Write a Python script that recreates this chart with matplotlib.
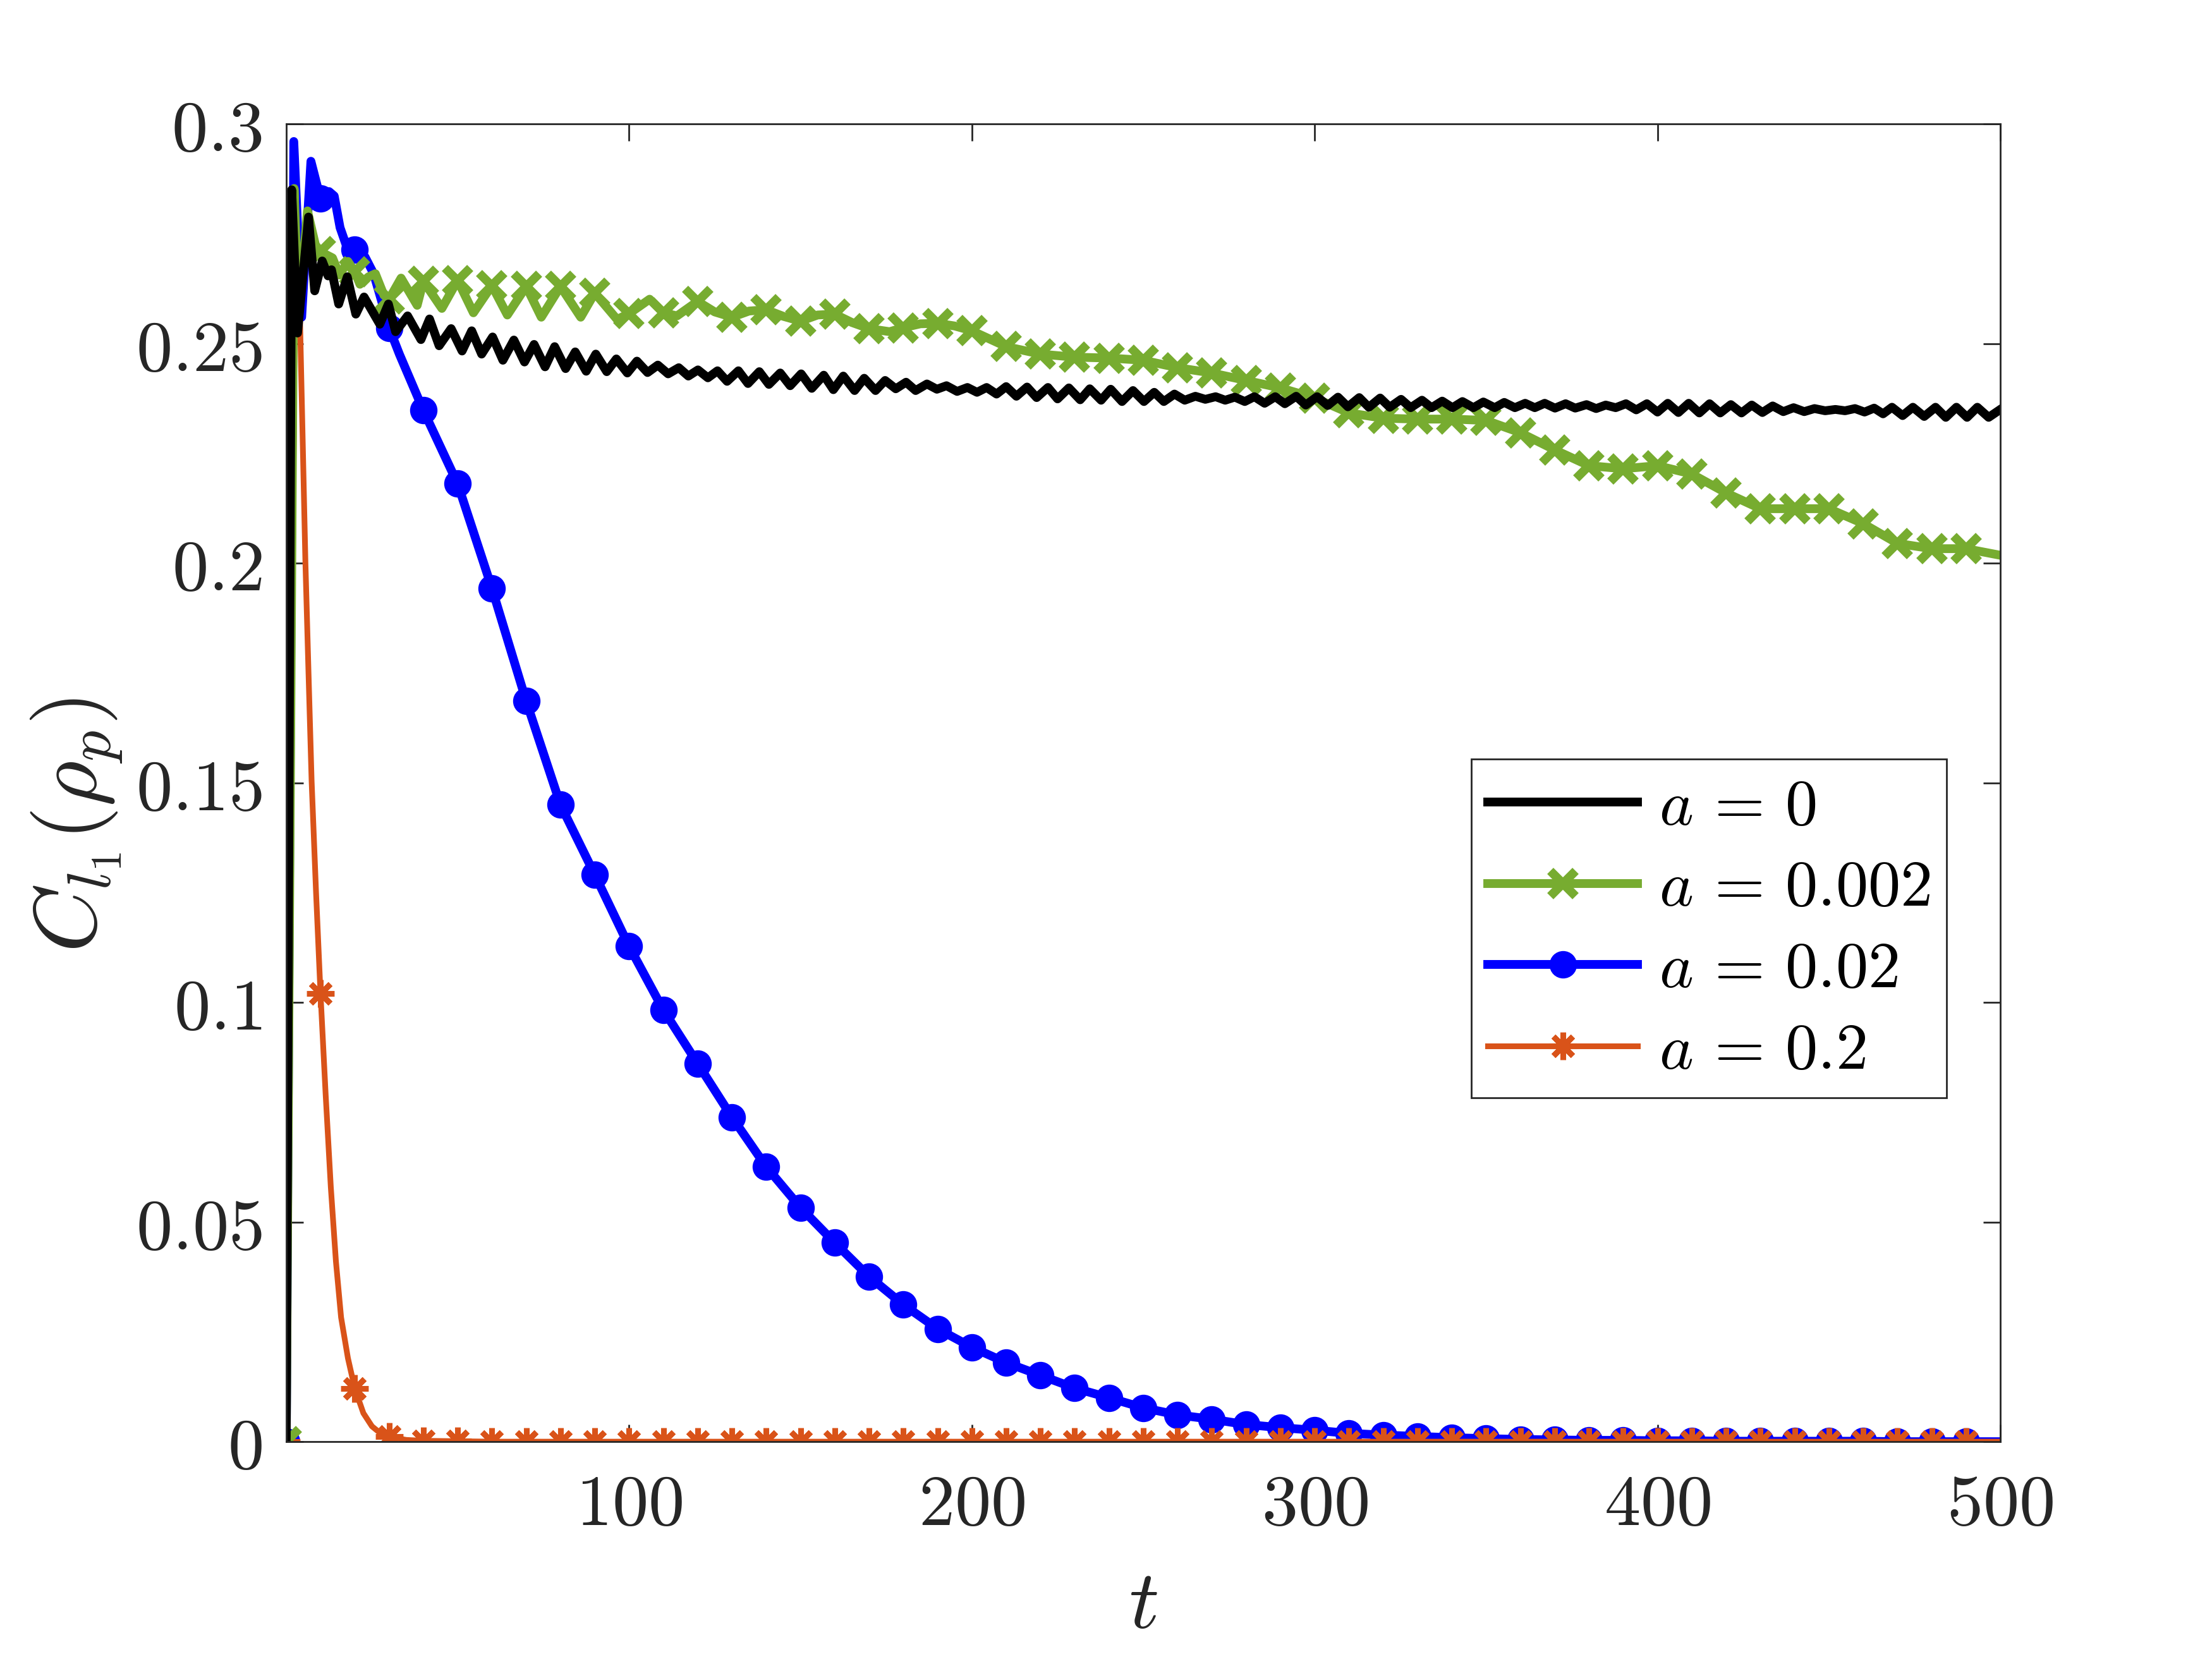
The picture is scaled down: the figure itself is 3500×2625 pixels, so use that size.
import numpy as np
import matplotlib
matplotlib.use("Agg")
import matplotlib.pyplot as plt

plt.rcParams['mathtext.fontset'] = 'cm'
plt.rcParams['font.family'] = ['DejaVu Serif']

# a = 0 : oscillating curve, peaks / troughs
black_t = [0, 1.6, 3.3, 6.5, 8.3, 10.5, 12.2, 13.2, 15.3, 17.8, 20.3, 22.7, 27.3, 29.8, 31.9,
           35.4, 39.3, 41.8, 44.6, 48.1, 51.3, 54.1, 57.0, 60.2, 63.2, 66.4, 69.5, 72.3, 75.5,
           78.3, 81.5, 84.3, 87.5, 90.3, 93.5, 96.3, 99.5, 102.3, 105.4, 108.4, 111.4, 114.5,
           117.3, 120.1, 123.0, 125.8, 128.6, 131.9, 134.7, 138.0, 140.8, 144.1, 147.0, 150.2,
           153.3, 156.8, 159.6, 162.5, 165.8, 168.6, 171.9, 174.7, 177.8, 180.8, 183.6, 186.9,
           189.8, 192.6, 195.7, 198.7, 201.5, 204.3, 207.2, 210.0, 213.0, 216.1, 218.9, 222.2,
           225.0, 228.3, 231.6, 234.4, 237.7, 240.5, 243.8, 247.0, 250.2, 253.2, 256.0, 259.1,
           262.1, 265.2, 268.1, 271.1, 273.9, 276.7, 279.6, 282.4, 285.4, 288.5, 291.3, 294.6,
           297.4, 300.7, 303.8, 306.8, 309.7, 313.0, 315.8, 319.1, 321.9, 325.2, 328.0, 331.3,
           334.1, 337.2, 340.2, 343.1, 346.3, 349.2, 352.5, 355.3, 358.4, 361.4, 364.2, 367.1,
           370.1, 373.2, 376.0, 379.3, 382.1, 384.9, 387.8, 390.8, 393.8, 396.9, 400.0, 403.0,
           406.1, 409.1, 412.2, 415.2, 418.3, 421.4, 424.5, 427.5, 430.6, 433.6, 436.7, 439.7,
           442.8, 445.8, 448.9, 451.9, 454.7, 457.6, 460.4, 463.2, 465.8, 468.4, 471.5, 474.5,
           477.8, 481.1, 484.1, 487.2, 490.3, 493.3, 496.6, 500.0]
black_v = [0.0, 0.2850, 0.2524, 0.2788, 0.2620, 0.2688, 0.2654, 0.2668, 0.2590, 0.2652, 0.2567,
           0.2606, 0.2544, 0.2590, 0.2527, 0.2563, 0.2509, 0.2556, 0.2495, 0.2534, 0.2483, 0.2529,
           0.2476, 0.2515, 0.2462, 0.2508, 0.2458, 0.2498, 0.2447, 0.2493, 0.2443, 0.2481, 0.2437,
           0.2476, 0.2436, 0.2465, 0.2433, 0.2460, 0.2434, 0.2451, 0.2431, 0.2445, 0.2426, 0.2440,
           0.2422, 0.2438, 0.2414, 0.2438, 0.2409, 0.2436, 0.2407, 0.2433, 0.2404, 0.2431, 0.2398,
           0.2428, 0.2395, 0.2426, 0.2393, 0.2421, 0.2393, 0.2416, 0.2397, 0.2412, 0.2393, 0.2408,
           0.2396, 0.2404, 0.2391, 0.2400, 0.2389, 0.2400, 0.2385, 0.2402, 0.2380, 0.2401, 0.2377,
           0.2400, 0.2374, 0.2399, 0.2372, 0.2397, 0.2371, 0.2396, 0.2368, 0.2393, 0.2368, 0.2389,
           0.2368, 0.2385, 0.2371, 0.2380, 0.2373, 0.2379, 0.2371, 0.2378, 0.2368, 0.2379, 0.2364,
           0.2379, 0.2363, 0.2380, 0.2360, 0.2379, 0.2359, 0.2378, 0.2356, 0.2377, 0.2355, 0.2376,
           0.2355, 0.2373, 0.2354, 0.2371, 0.2354, 0.2369, 0.2354, 0.2368, 0.2354, 0.2367, 0.2354,
           0.2366, 0.2354, 0.2364, 0.2354, 0.2364, 0.2353, 0.2363, 0.2353, 0.2361, 0.2352, 0.2360,
           0.2354, 0.2363, 0.2349, 0.2363, 0.2344, 0.2364, 0.2343, 0.2364, 0.2342, 0.2363, 0.2342,
           0.2361, 0.2342, 0.2360, 0.2343, 0.2358, 0.2345, 0.2354, 0.2345, 0.2352, 0.2347, 0.2350,
           0.2347, 0.2352, 0.2344, 0.2353, 0.2340, 0.2355, 0.2336, 0.2355, 0.2334, 0.2355, 0.2332,
           0.2355, 0.2332, 0.2355, 0.2332, 0.2350]

# a = 0.002
green_t = [0, 2.3, 3.6, 6.2, 8.5, 10, 13.5, 15.5, 18, 20, 21.5, 24, 26, 28.5, 30, 33.5, 38.2, 40,
           45.4, 50, 54.6, 60, 64.5, 70, 74.4, 80, 85.9, 90, 96.5, 100, 106, 110, 114, 120, 125,
           130, 135, 140, 145, 150, 155, 160, 165, 170, 176, 180, 185, 190, 195, 200, 210, 220,
           230, 240, 250, 260, 270, 280, 290, 300, 310, 320, 330, 340, 350, 360, 370, 380, 390,
           400, 410, 420, 430, 440, 450, 460, 470, 480, 490, 500]
green_v = [0.0, 0.2853, 0.2560, 0.2802, 0.2725, 0.2709, 0.2695, 0.2656, 0.2687, 0.2663, 0.2635,
           0.2652, 0.2659, 0.2610, 0.2601, 0.2649, 0.2587, 0.2642, 0.2580, 0.2644, 0.2570, 0.2632,
           0.2565, 0.2630, 0.2560, 0.2630, 0.2560, 0.2615, 0.2555, 0.2568, 0.2601, 0.2570, 0.2563,
           0.2596, 0.2572, 0.2560, 0.2574, 0.2577, 0.2562, 0.2551, 0.2565, 0.2567, 0.2548, 0.2534,
           0.2527, 0.2536, 0.2545, 0.2546, 0.2540, 0.2529, 0.2493, 0.2476, 0.2469, 0.2467, 0.2462,
           0.2445, 0.2433, 0.2416, 0.2399, 0.2376, 0.2342, 0.2330, 0.2328, 0.2328, 0.2325, 0.2297,
           0.2258, 0.2222, 0.2215, 0.2222, 0.2203, 0.2160, 0.2124, 0.2124, 0.2124, 0.2090, 0.2045,
           0.2033, 0.2033, 0.2018]

# a = 0.02
blue_t = [0, 2.2, 4.5, 7.2, 10, 12.5, 14, 15.7, 17.4, 20, 23, 25.5, 27.7, 30, 33, 40, 50, 60, 70,
          80, 90, 100, 110, 120, 130, 140, 150, 160, 170, 180, 190, 200, 210, 220, 230, 240, 250,
          260, 270, 280, 290, 300, 310, 320, 330, 340, 350, 360, 370, 380, 390, 400, 410, 420,
          430, 440, 450, 460, 470, 480, 490, 500]
blue_v = [0.0, 0.2960, 0.2560, 0.2915, 0.2830, 0.2846, 0.2836, 0.2764, 0.2726, 0.2714, 0.2697,
          0.2659, 0.2600, 0.2536, 0.2476, 0.2348, 0.2181, 0.1943, 0.1686, 0.1450, 0.1291, 0.1128,
          0.0983, 0.0861, 0.0739, 0.0626, 0.0533, 0.0453, 0.0376, 0.0312, 0.0257, 0.0215, 0.0180,
          0.0151, 0.0122, 0.0100, 0.0077, 0.0061, 0.0051, 0.0039, 0.0032, 0.0026, 0.0019, 0.0015,
          0.0012, 0.0009, 0.0007, 0.0005, 0.0004, 0.0003, 0.0003, 0.0002, 0.0002, 0.0001, 0.0001,
          0.0001, 0.0001, 0.0001, 0.0, 0.0, 0.0, 0.0]

# a = 0.2
orange_t = [0, 2.5, 4.0, 5.6, 6.5, 7.4, 8.7, 10, 11.5, 13, 14.5, 16, 18, 20, 22.5, 25, 27.5, 30,
            35, 40, 50] + list(range(60, 501, 10))
orange_v = [0.0, 0.2620, 0.2560, 0.2000, 0.1750, 0.1505, 0.1250, 0.1020, 0.0790, 0.0580, 0.0410,
            0.0283, 0.0190, 0.0121, 0.0065, 0.0035, 0.0019, 0.0011, 0.0004, 0.0002,
            0.0001] + [0.0] * len(range(60, 501, 10))

labels = ['$a \\, = \\, 0$', '$a \\, = \\, 0.002$', '$a \\, = \\, 0.02$', '$a \\, = \\, 0.2$']
yticks = [0, 0.05, 0.1, 0.15, 0.2, 0.25, 0.3]
ytick_labels = ['$0$', '$0.05$', '$0.1$', '$0.15$', '$0.2$', '$0.25$', '$0.3$']
xticks = [100, 200, 300, 400, 500]
xtick_labels = ['$100$', '$200$', '$300$', '$400$', '$500$']

BLACK = 'black'
GREEN = (0.466, 0.674, 0.188)
BLUE = (0, 0, 1)
ORANGE = (0.85, 0.325, 0.098)
AXC = '#262626'


def every10(t):
    # marker on every sample that falls on a multiple of 10 (MATLAB MarkerIndices style)
    return [i for i, v in enumerate(t) if abs(v % 10) < 1e-9 and v < 500]


fig = plt.figure(figsize=(14, 10.5), dpi=250)
ax = fig.add_axes([0.1294, 0.131, 0.7749, 0.7943])

# drawing order as in the original: blue, orange, green, black on top
h_bl, = ax.plot(blue_t, blue_v, color=BLUE, lw=4.0, marker='o', ms=11.5, mfc=BLUE, mec=BLUE,
                markevery=every10(blue_t))
h_or, = ax.plot(orange_t, orange_v, color=ORANGE, lw=2.6, marker=(8, 2, 0), ms=12.5,
                mew=2.6, markevery=every10(orange_t))
h_gr, = ax.plot(green_t, green_v, color=GREEN, lw=4.0, marker='x', ms=11.5, mew=4.0,
                markevery=every10(green_t))
h_bk, = ax.plot(black_t, black_v, color=BLACK, lw=4.0)

ax.set_xlim(0, 500)
ax.set_ylim(0, 0.3)
ax.set_xticks(xticks)
ax.set_xticklabels(xtick_labels)
ax.set_yticks(yticks)
ax.set_yticklabels(ytick_labels)
ax.tick_params(direction='in', top=True, right=True, length=7.8, width=0.8, color=AXC,
               labelcolor=AXC, labelsize=33)
ax.tick_params(axis='x', pad=13)
ax.tick_params(axis='y', pad=11)
for s in ax.spines.values():
    s.set_linewidth(0.8)
    s.set_color(AXC)

ax.set_xlabel('$t$', fontsize=38, color=AXC, va='center')
ax.xaxis.set_label_coords(0.5, -0.124)
ax.set_ylabel('$C_{l_1}(\\rho_p)$', fontsize=40, color=AXC, va='center')
ax.yaxis.set_label_coords(-0.122, 0.468)

leg = ax.legend([h_bk, h_gr, h_bl, h_or], labels, loc='upper left',
                bbox_to_anchor=(0.6914, 0.518), fontsize=29.5, handlelength=2.32,
                handletextpad=0.33, labelspacing=0.29, borderpad=0.25, borderaxespad=0,
                fancybox=False, framealpha=1, edgecolor=AXC)
leg.get_frame().set_linewidth(0.8)

fig.savefig('out.png', dpi=250)
